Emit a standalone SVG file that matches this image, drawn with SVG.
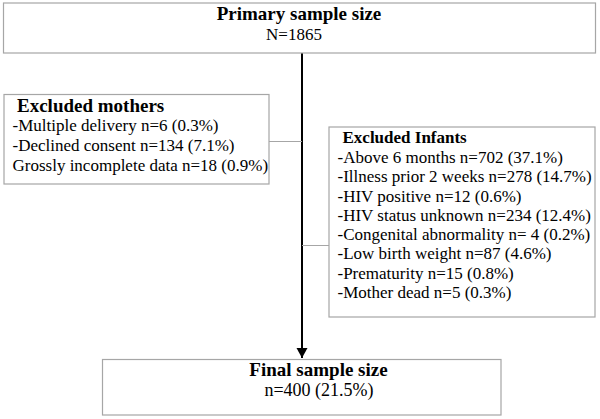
<svg xmlns="http://www.w3.org/2000/svg" width="600" height="419" viewBox="0 0 600 419">
<style>
.box{fill:#fff;stroke:#a6a6a6;stroke-width:1.2}
.t{font-family:"Liberation Serif","Times New Roman",serif;fill:#000}
.b{font-weight:bold}
.c{text-anchor:middle}
.con{stroke:#a6a6a6;stroke-width:1;fill:none}
</style>
<defs>
<marker id="ah" markerUnits="userSpaceOnUse" markerWidth="12" markerHeight="12" refX="10" refY="6" orient="auto">
<path d="M0,0.5 L10,6 L0,11.5 Z" fill="#000"/>
</marker>
</defs>
<g id="connectors">
<line x1="302" y1="53" x2="302" y2="358" stroke="#000" stroke-width="2" marker-end="url(#ah)"/>
<line class="con" x1="269" y1="141.5" x2="302" y2="141.5"/>
<line class="con" x1="302" y1="245.5" x2="329" y2="245.5"/>
</g>
<g id="primary">
<rect class="box" x="3.5" y="3" width="592" height="50"/>
<text class="t b c" x="299" y="20" font-size="19">Primary sample size</text>
<text class="t c" x="294" y="40" font-size="17">N=1865</text>
</g>
<g id="excluded-mothers">
<rect class="box" x="4" y="94.5" width="265" height="89.5"/>
<text class="t b" x="17" y="112" font-size="19">Excluded mothers</text>
<text class="t" font-size="17" x="12.5"><tspan x="12.5" y="131">-Multiple delivery n=6 (0.3%)</tspan><tspan x="12.5" y="151">-Declined consent n=134 (7.1%)</tspan><tspan x="12.5" y="171">Grossly incomplete data n=18 (0.9%)</tspan></text>
</g>
<g id="excluded-infants">
<rect class="box" x="329" y="127" width="266" height="190"/>
<text class="t b" x="342.5" y="143" font-size="17">Excluded Infants</text>
<text class="t" font-size="17"><tspan x="337.5" y="163">-Above 6 months n=702 (37.1%)</tspan><tspan x="337.5" y="182">-Illness prior 2 weeks n=278 (14.7%)</tspan><tspan x="337.5" y="201.5">-HIV positive n=12 (0.6%)</tspan><tspan x="337.5" y="220.5">-HIV status unknown n=234 (12.4%)</tspan><tspan x="337.5" y="240">-Congenital abnormality n= 4 (0.2%)</tspan><tspan x="337.5" y="259">-Low birth weight n=87 (4.6%)</tspan><tspan x="337.5" y="278.5">-Prematurity n=15 (0.8%)</tspan><tspan x="337.5" y="298">-Mother dead n=5 (0.3%)</tspan></text>
</g>
<g id="final">
<rect class="box" x="102.5" y="359.5" width="398.5" height="55.5"/>
<text class="t b c" x="318.5" y="376" font-size="19">Final sample size</text>
<text class="t c" x="319" y="396" font-size="18">n=400 (21.5%)</text>
</g>
</svg>
